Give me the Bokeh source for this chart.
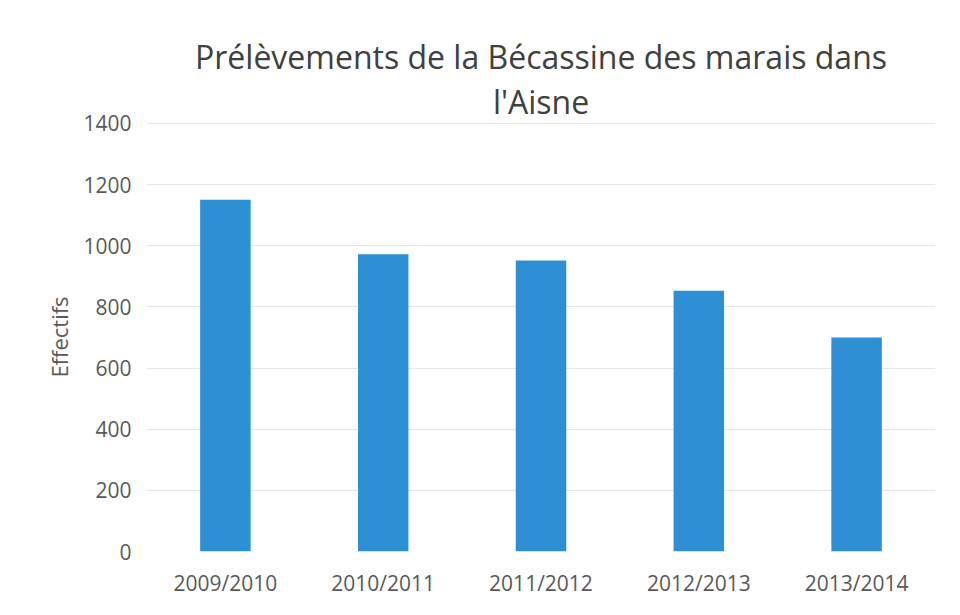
from bokeh.plotting import figure
from bokeh.models import Range1d, FixedTicker, Title
from bokeh.embed import file_html
from bokeh.resources import INLINE

seasons = ["2009/2010", "2010/2011", "2011/2012", "2012/2013", "2013/2014"]
effectifs = [1150, 972, 952, 853, 700]
y_ticks = [0, 200, 400, 600, 800, 1000, 1200, 1400]
title_lines = ["Prélèvements de la Bécassine des marais dans", "l'Aisne"]

FONT = "Open Sans"
TEXT = "#595959"

p = figure(x_range=seasons, y_range=Range1d(0, 1403), width=944, height=599,
           output_backend="svg", toolbar_location=None,
           min_border_left=146, min_border_right=9, min_border_top=122, min_border_bottom=48)

# outer title line (first line)
p.title.text = title_lines[0]
p.title.align = "center"
p.title.text_font = FONT
p.title.text_font_size = "32px"
p.title.text_font_style = "normal"
p.title.text_color = "#404040"
p.title.standoff = 0

# line closest to the plot (second line)
t2 = Title(text=title_lines[1], align="center", text_font=FONT, text_font_size="32px",
           text_font_style="normal", text_color="#404040", standoff=0)
p.add_layout(t2, "above")

p.vbar(x=seasons, top=effectifs, width=0.32, color="#2F8FD5", line_color=None)

p.outline_line_color = None
p.xgrid.grid_line_color = None
p.ygrid.grid_line_color = "#e6e6e6"
p.ygrid.grid_line_width = 1
p.yaxis.ticker = FixedTicker(ticks=y_ticks)

for ax in (p.xaxis[0], p.yaxis[0]):
    ax.axis_line_color = None
    ax.major_tick_line_color = None
    ax.minor_tick_line_color = None
    ax.major_tick_out = 0
    ax.major_tick_in = 0
    ax.minor_tick_out = 0
    ax.major_label_text_font = FONT
    ax.major_label_text_font_size = "21px"
    ax.major_label_text_color = TEXT

p.yaxis.axis_label = "Effectifs"
p.yaxis.axis_label_text_font = FONT
p.yaxis.axis_label_text_font_size = "22px"
p.yaxis.axis_label_text_font_style = "normal"
p.yaxis.axis_label_text_color = TEXT
p.yaxis.major_label_standoff = 15
p.xaxis.major_label_standoff = 17
p.yaxis.axis_label_standoff = 6

open("out.html", "w").write(file_html(p, INLINE))
